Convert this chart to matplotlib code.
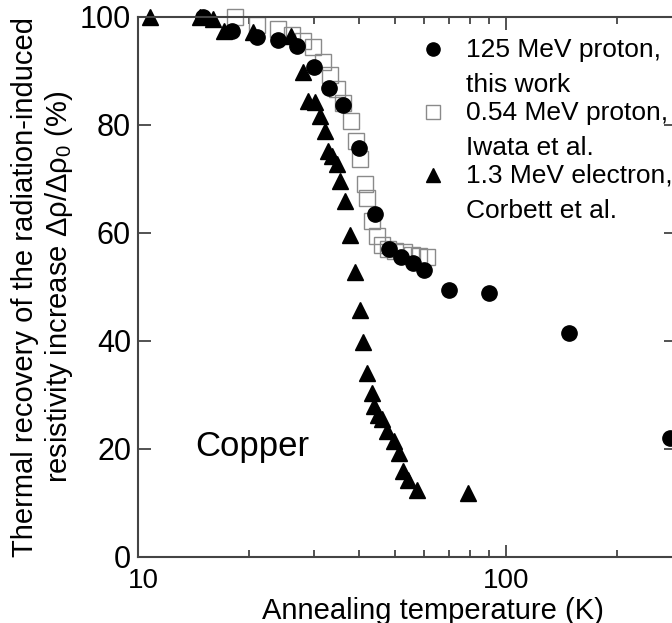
import matplotlib
matplotlib.use('Agg')
import matplotlib.pyplot as plt
import matplotlib.transforms as mtransforms
from matplotlib.ticker import LogLocator, NullFormatter, FixedLocator, FixedFormatter

plt.rcParams['font.family'] = ['Liberation Sans', 'DejaVu Sans']
plt.rcParams['mathtext.fontset'] = 'custom'
plt.rcParams['mathtext.rm'] = 'Liberation Sans'
plt.rcParams['mathtext.it'] = 'Liberation Sans:italic'

# 125 MeV proton, this work
p125_T = [15, 18, 21, 24, 27, 30, 33, 36, 40, 44, 48, 52, 56, 60, 70, 90, 148, 280]
p125_R = [100, 97.4, 96.3, 95.7, 94.6, 90.7, 86.8, 83.7, 75.7, 63.6, 57.0, 55.5,
          54.5, 53.1, 49.5, 48.8, 41.4, 22.1]

# 0.54 MeV proton, Iwata et al.
p054_T = [18.3, 21.1, 24.0, 26.3, 28.1, 29.9, 31.8, 33.3, 34.7, 36.1, 37.9, 39.1,
          40.1, 41.4, 41.9, 43.2, 44.6, 46.0, 47.7, 49.9, 52.8, 55.6, 58.0, 61.0]
p054_R = [100, 98.5, 97.8, 96.6, 95.6, 94.4, 91.6, 89.3, 86.7, 84.1, 80.7, 77.0,
          73.7, 69.1, 66.4, 62.2, 59.4, 57.7, 57.0, 56.6, 56.4, 56.0, 55.8, 55.5]

# 1.3 MeV electron, Corbett et al.
e13_T = [10.8, 14.7, 16.0, 17.1, 20.5, 26.1, 28.1, 29.0, 30.3, 31.2, 32.2, 32.8,
         33.6, 34.7, 35.4, 36.5, 37.7, 38.9, 40.1, 40.9, 41.9, 43.2, 43.8, 44.9,
         46.0, 47.5, 49.6, 51.2, 52.5, 54.2, 57.3, 78.9]
e13_R = [100, 100, 99.6, 97.4, 97.2, 96.5, 89.8, 84.4, 84.2, 81.6, 78.9, 75.1,
         74.2, 72.7, 69.6, 65.9, 59.7, 52.7, 45.8, 39.9, 34.0, 30.4, 28.0, 26.3,
         25.6, 23.4, 21.5, 19.3, 16.0, 14.3, 12.4, 11.9]

legend_labels = ['125 MeV proton,\nthis work', '0.54 MeV proton,\nIwata et al.',
                 '1.3 MeV electron,\nCorbett et al.']
yticks = [0, 20, 40, 60, 80, 100]

fig = plt.figure(figsize=(6.72, 6.23), dpi=100)
ax = fig.add_axes([138 / 672, 66 / 623, 538 / 672, 540 / 623])

ax.plot(p054_T, p054_R, 's', ms=11.5, mfc='none', mec='#8a8a8a', mew=1.0, clip_on=False)
ax.plot(e13_T, e13_R, '^', ms=11, color='black', clip_on=False)
ax.plot(p125_T, p125_R, 'o', ms=11, color='black', clip_on=False)

ax.set_xscale('log')
ax.set_xlim(10, 290)
ax.set_ylim(0, 100)
ax.xaxis.set_major_locator(FixedLocator([10, 100]))
ax.xaxis.set_major_formatter(FixedFormatter(['10', '100']))
ax.xaxis.set_minor_locator(LogLocator(base=10, subs=range(2, 10)))
ax.xaxis.set_minor_formatter(NullFormatter())
ax.set_yticks(yticks)

for s in ax.spines.values():
    s.set_color('#444444')
    s.set_linewidth(1.5)
ax.tick_params(which='both', direction='in', top=True, right=True, color='#444444',
               width=1.3)
ax.tick_params(which='major', length=9, pad=8)
ax.tick_params(which='minor', length=5)
ax.tick_params(axis='x', labelsize=20)
ax.tick_params(axis='y', labelsize=22, pad=5)

# the "10" label sits a little right of its tick in the original
fig.canvas.draw()
lbl10 = ax.get_xticklabels()[0]
lbl10.set_transform(lbl10.get_transform() +
                    mtransforms.ScaledTranslation(5 / 100, 0, fig.dpi_scale_trans))

ax.set_xlabel('Annealing temperature (K)', fontsize=21)
ax.xaxis.set_label_coords(0.548, -0.074)
ax.set_ylabel('Thermal recovery of the radiation-induced\n'
              'resistivity increase Δρ/Δρ$_0$ (%)', fontsize=21,
              linespacing=1.15)
ax.yaxis.set_label_coords(-0.118, 0.5)

ax.text(0.212, 0.204, 'Copper', transform=ax.transAxes, fontsize=25,
        ha='center', va='center')

# legend drawn by hand so the marker sits on the first line of each label
styles = [dict(marker='o', ms=9.5, color='black'),
          dict(marker='s', ms=9.5, mfc='none', mec='#8a8a8a', mew=1.0),
          dict(marker='^', ms=9.5, color='black')]
for i, (lab, st) in enumerate(zip(legend_labels, styles)):
    ytop = 1 - (49 - 17 + 63 * i) / 540
    ax.plot([(433 - 138) / 538], [ytop], transform=ax.transAxes, clip_on=False,
            linestyle='none', **st)
    ax.text((466 - 138) / 538, ytop + 11 / 540, lab, transform=ax.transAxes,
            fontsize=19, ha='left', va='top', linespacing=1.58)

fig.savefig('out.png', dpi=100)
